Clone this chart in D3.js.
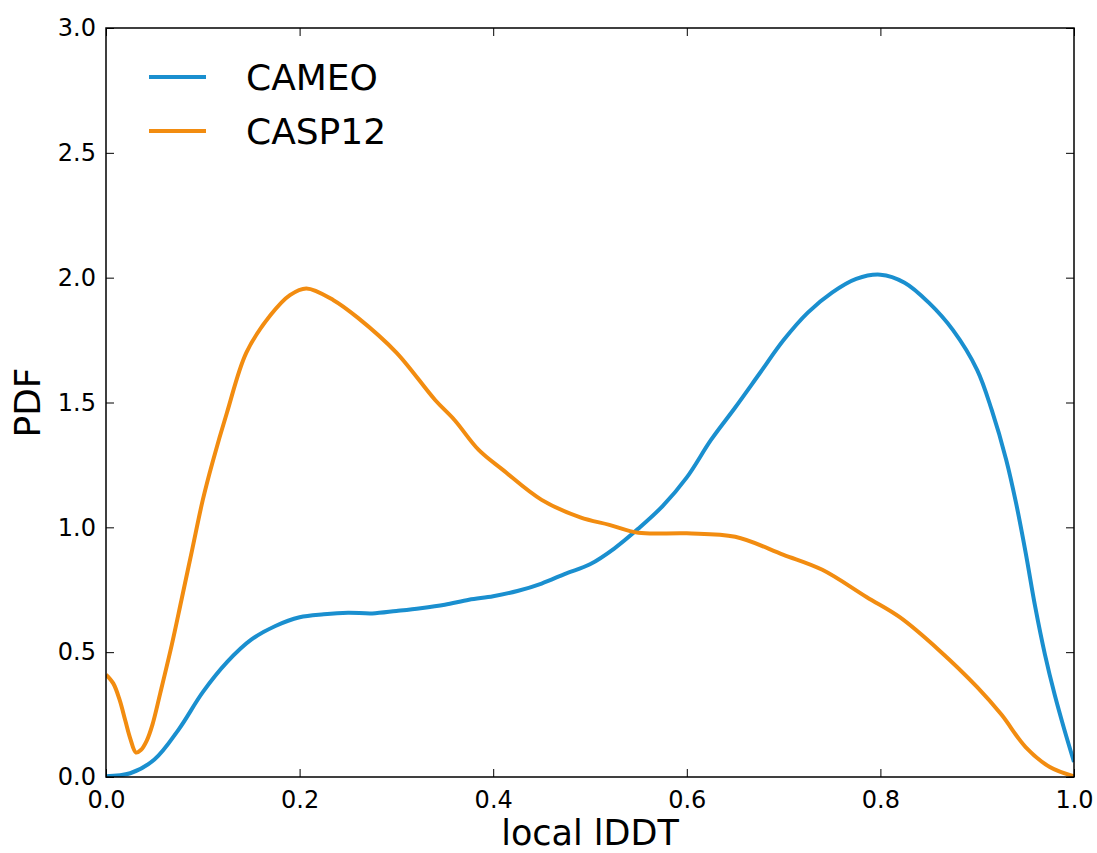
<!DOCTYPE html>
<html>
<head>
<meta charset="utf-8">
<script src="https://cdn.jsdelivr.net/npm/d3@7/dist/d3.min.js"></script>
<style>
  body { margin: 0; background: #fff; }
  text { font-family: "DejaVu Sans", sans-serif; fill: #000; }
</style>
</head>
<body>
<div id="root"></div>
<script>
// x positions (local lDDT) and PDF values
let cameoX = [0, 0.025, 0.05, 0.075, 0.1, 0.125, 0.15, 0.175, 0.2, 0.225, 0.25, 0.275, 0.3, 0.325, 0.35, 0.375, 0.4, 0.425, 0.45, 0.475, 0.5, 0.525, 0.55, 0.575, 0.6, 0.625, 0.65, 0.675, 0.7, 0.725, 0.75, 0.775, 0.8, 0.825, 0.85, 0.875, 0.9, 0.915, 0.93, 0.94, 0.95, 0.96, 0.97, 0.98, 0.99, 1.0];
let cameoY = [0.003, 0.015, 0.07, 0.19, 0.34, 0.46, 0.55, 0.605, 0.64, 0.652, 0.658, 0.655, 0.665, 0.676, 0.69, 0.71, 0.724, 0.745, 0.775, 0.815, 0.852, 0.915, 0.995, 1.085, 1.2, 1.35, 1.48, 1.615, 1.75, 1.86, 1.94, 1.995, 2.012, 1.98, 1.9, 1.79, 1.63, 1.47, 1.27, 1.1, 0.9, 0.68, 0.49, 0.33, 0.19, 0.06];

let caspX = [0, 0.0075, 0.014, 0.02, 0.025, 0.031, 0.036, 0.042, 0.048, 0.056, 0.068, 0.078, 0.089, 0.1, 0.11, 0.125, 0.145, 0.17, 0.19, 0.207, 0.235, 0.26, 0.3, 0.34, 0.36, 0.385, 0.41, 0.45, 0.49, 0.52, 0.55, 0.6, 0.65, 0.7, 0.74, 0.786, 0.82, 0.86, 0.9, 0.925, 0.95, 0.975, 1.0];
let caspY = [0.41, 0.375, 0.31, 0.225, 0.155, 0.098, 0.108, 0.145, 0.21, 0.335, 0.53, 0.71, 0.91, 1.11, 1.26, 1.46, 1.70, 1.85, 1.93, 1.957, 1.91, 1.84, 1.70, 1.51, 1.43, 1.31, 1.23, 1.11, 1.04, 1.01, 0.978, 0.976, 0.962, 0.89, 0.83, 0.72, 0.64, 0.51, 0.36, 0.25, 0.12, 0.04, 0.003];

let seriesNames = ["CAMEO", "CASP12"];
let seriesColors = ["#1a8fcf", "#f28c10"];

let xTicks = [0, 0.2, 0.4, 0.6, 0.8, 1.0];
let yTicks = [0, 0.5, 1.0, 1.5, 2.0, 2.5, 3.0];

let width = 1097, height = 853;
let margin = { left: 106, right: 23, top: 28, bottom: 76 };

let svg = d3.select('#root').append('svg')
    .attr('width', width)
    .attr('height', height);

let x = d3.scaleLinear().domain([0, 1]).range([margin.left, width - margin.right]);
let y = d3.scaleLinear().domain([0, 3]).range([height - margin.bottom, margin.top]);

let series = [
    { name: seriesNames[0], color: seriesColors[0], pts: cameoX.map((v, i) => [v, cameoY[i]]) },
    { name: seriesNames[1], color: seriesColors[1], pts: caspX.map((v, i) => [v, caspY[i]]) }
];

let line = d3.line()
    .x(d => x(d[0]))
    .y(d => y(d[1]))
    .curve(d3.curveCatmullRom.alpha(0.5));

svg.append('defs').append('clipPath').attr('id', 'plotClip')
    .append('rect')
    .attr('x', x(0)).attr('y', y(3))
    .attr('width', x(1) - x(0)).attr('height', y(0) - y(3));

svg.append('g').attr('clip-path', 'url(#plotClip)')
    .selectAll('path')
    .data(series)
    .enter().append('path')
    .attr('d', d => line(d.pts))
    .attr('fill', 'none')
    .attr('stroke', d => d.color)
    .attr('stroke-width', 4)
    .attr('stroke-linejoin', 'round');

// axes, ticks pointing inward on all four sides
let tickLen = 8;
svg.append('g').attr('transform', 'translate(0,' + y(0) + ')')
    .call(d3.axisBottom(x).tickValues(xTicks).tickFormat(d3.format('.1f')).tickSizeInner(-tickLen).tickSizeOuter(0).tickPadding(14));
svg.append('g').attr('transform', 'translate(0,' + y(3) + ')')
    .call(d3.axisTop(x).tickValues(xTicks).tickFormat('').tickSizeInner(-tickLen).tickSizeOuter(0));
svg.append('g').attr('transform', 'translate(' + x(0) + ',0)')
    .call(d3.axisLeft(y).tickValues(yTicks).tickFormat(d3.format('.1f')).tickSizeInner(-tickLen).tickSizeOuter(0).tickPadding(10));
svg.append('g').attr('transform', 'translate(' + x(1) + ',0)')
    .call(d3.axisRight(y).tickValues(yTicks).tickFormat('').tickSizeInner(-tickLen).tickSizeOuter(0));

svg.selectAll('.domain').remove();
svg.selectAll('.tick line').attr('stroke', '#000').attr('stroke-width', 1);
svg.selectAll('.tick text').style('font-size', '24px').style('font-family', '"DejaVu Sans", sans-serif');

svg.append('rect')
    .attr('x', x(0)).attr('y', y(3))
    .attr('width', x(1) - x(0)).attr('height', y(0) - y(3))
    .attr('fill', 'none')
    .attr('stroke', '#000')
    .attr('stroke-width', 1.5);

// axis titles
svg.append('text')
    .attr('x', (x(0) + x(1)) / 2)
    .attr('y', 845)
    .attr('text-anchor', 'middle')
    .style('font-size', '35px')
    .text('local lDDT');

svg.append('text')
    .attr('transform', 'translate(40,' + ((y(0) + y(3)) / 2) + ') rotate(-90)')
    .attr('text-anchor', 'middle')
    .style('font-size', '36px')
    .text('PDF');

// legend
let legend = svg.selectAll('.legend')
    .data(series)
    .enter().append('g')
    .attr('class', 'legend')
    .attr('transform', (d, i) => 'translate(0,' + (77 + i * 54) + ')');

legend.append('line')
    .attr('x1', 149).attr('x2', 206)
    .attr('y1', 0).attr('y2', 0)
    .attr('stroke', d => d.color)
    .attr('stroke-width', 4);

legend.append('text')
    .attr('x', 246)
    .attr('y', 13)
    .style('font-size', '36px')
    .text(d => d.name);
</script>
</body>
</html>
